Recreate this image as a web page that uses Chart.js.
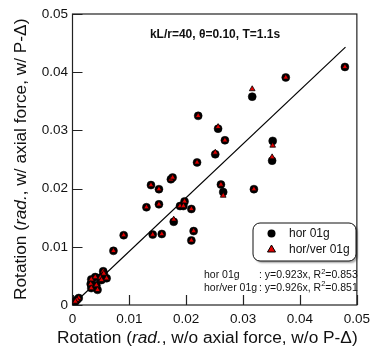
<!DOCTYPE html>
<html>
<head>
<meta charset="utf-8">
<script src="https://cdn.jsdelivr.net/npm/chart.js@4"></script>
<style>
html, body { margin: 0; padding: 0; background: #fff; }
</style>
</head>
<body>
<canvas id="chart" width="376" height="347"></canvas>
<script>
const fram = document.getElementById('chart');

// rotation without axial force (x) for each record
const rotNoAxial = [0.0479, 0.0375, 0.0316, 0.0221, 0.0256, 0.0268, 0.0352, 0.0351, 0.0251, 0.0219,
  0.0138, 0.0152, 0.0173, 0.0176, 0.0261, 0.0265, 0.0319, 0.0130, 0.0152, 0.0189,
  0.0197, 0.0195, 0.0209, 0.0178, 0.0213, 0.0209, 0.0090, 0.0141, 0.0157, 0.0072,
  0.0054, 0.0055, 0.0049, 0.0060, 0.0051, 0.0040, 0.0033, 0.0032, 0.0042, 0.0033,
  0.0044, 0.0011, 0.0008, 0.0005];
// rotation with axial force, horizontal 0.1g
const rotHor = [0.0409, 0.0391, 0.0358, 0.0325, 0.0303, 0.0283, 0.0282, 0.0248, 0.0259, 0.0245,
  0.0206, 0.0199, 0.0216, 0.0219, 0.0207, 0.0194, 0.0199, 0.0168, 0.0173, 0.0170,
  0.0178, 0.0170, 0.0165, 0.0143, 0.0127, 0.0111, 0.0120, 0.0121, 0.0122, 0.0093,
  0.0058, 0.0054, 0.0047, 0.0046, 0.0043, 0.0048, 0.0044, 0.0036, 0.0034, 0.0029,
  0.0026, 0.0012, 0.0009, 0.0006];
// rotation with axial force, horizontal + vertical 0.1g
const rotHorVer = [0.0409, 0.0391, 0.0371, 0.0325, 0.0306, 0.0283, 0.0274, 0.0254, 0.0262, 0.0245,
  0.0206, 0.0199, 0.0216, 0.0219, 0.0207, 0.0188, 0.0199, 0.0168, 0.0173, 0.0170,
  0.0178, 0.0170, 0.0165, 0.0147, 0.0127, 0.0111, 0.0120, 0.0121, 0.0122, 0.0093,
  0.0058, 0.0054, 0.0047, 0.0046, 0.0043, 0.0048, 0.0044, 0.0036, 0.0034, 0.0029,
  0.0026, 0.0012, 0.0009, 0.0006];
// fitted line end points
const fitX = [0, 0.048];
const fitY = [0, 0.0443];
const seriesNames = ['hor 01g', 'hor/ver 01g'];
const fitText = [': y=0.923x, R', '2', '=0.853', ': y=0.926x, R', '2', '=0.851'];
const titleText = 'kL/r=40, \u03b8=0.10, T=1.1s';
const tickVals = [0, 0.01, 0.02, 0.03, 0.04, 0.05];

const FONT = '"Liberation Sans", Arial, sans-serif';
const RED = '#e00000';

function runs(ctx, parts, x, y) {
  parts.forEach((p) => {
    ctx.font = p[1];
    ctx.fillText(p[0], x, y);
    x += ctx.measureText(p[0]).width;
  });
}

const overlay = {
  id: 'overlay',
  beforeDatasetsDraw(chart) {
    const ctx = chart.ctx;
    const a = chart.chartArea;
    const xs = chart.scales.x;
    const ys = chart.scales.y;
    ctx.save();
    ctx.strokeStyle = '#222';
    ctx.lineWidth = 1.2;
    ctx.strokeRect(a.left, a.top, a.right - a.left, a.bottom - a.top);
    ctx.beginPath();
    tickVals.forEach((v) => {
      const px = Math.round(xs.getPixelForValue(v)) + 0.5;
      ctx.moveTo(px, a.bottom);
      ctx.lineTo(px, a.bottom - 10);
      const py = Math.round(ys.getPixelForValue(v)) + 0.5;
      ctx.moveTo(a.left, py);
      ctx.lineTo(a.left + 10, py);
    });
    ctx.stroke();
    ctx.restore();
  },
  afterDraw(chart) {
    const ctx = chart.ctx;
    ctx.save();
    ctx.fillStyle = '#111';
    // title
    ctx.font = 'bold 12px ' + FONT;
    ctx.textAlign = 'center';
    ctx.textBaseline = 'middle';
    ctx.fillText(titleText, 215, 35);

    // legend box
    ctx.save();
    ctx.shadowColor = 'rgba(0,0,0,0.35)';
    ctx.shadowOffsetX = 2;
    ctx.shadowOffsetY = 2;
    ctx.shadowBlur = 2;
    ctx.beginPath();
    ctx.roundRect(253, 223, 103, 38, 7);
    ctx.fillStyle = '#fff';
    ctx.fill();
    ctx.restore();
    ctx.beginPath();
    ctx.roundRect(253, 223, 103, 38, 7);
    ctx.strokeStyle = '#111';
    ctx.lineWidth = 1;
    ctx.stroke();
    ctx.beginPath();
    ctx.arc(271.5, 233.5, 4, 0, Math.PI * 2);
    ctx.fillStyle = '#000';
    ctx.fill();
    ctx.beginPath();
    ctx.moveTo(271.5, 245);
    ctx.lineTo(275.5, 252);
    ctx.lineTo(267.5, 252);
    ctx.closePath();
    ctx.fillStyle = RED;
    ctx.fill();
    ctx.strokeStyle = '#000';
    ctx.stroke();
    ctx.fillStyle = '#111';
    ctx.textAlign = 'left';
    ctx.font = '12px ' + FONT;
    ctx.fillText(seriesNames[0], 289, 234);
    ctx.fillText(seriesNames[1], 289, 249.5);

    // regression text
    ctx.textBaseline = 'alphabetic';
    const f = '10.5px ' + FONT;
    const fs = '7.5px ' + FONT;
    ctx.font = f;
    ctx.fillText(seriesNames[0], 204, 278);
    ctx.fillText(seriesNames[1], 204, 290.5);
    runs(ctx, [[fitText[0], f]], 259, 278);
    let w = 259 + ctx.measureText(fitText[0]).width;
    ctx.font = fs; ctx.fillText(fitText[1], w, 273.5);
    w += ctx.measureText(fitText[1]).width;
    ctx.font = f; ctx.fillText(fitText[2], w, 278);
    ctx.font = f;
    w = 259 + ctx.measureText(fitText[3]).width;
    ctx.fillText(fitText[3], 259, 290.5);
    ctx.font = fs; ctx.fillText(fitText[4], w, 286);
    w += ctx.measureText(fitText[4]).width;
    ctx.font = f; ctx.fillText(fitText[5], w, 290.5);

    // axis titles
    const n = '17.3px ' + FONT;
    const it = 'italic 17.3px ' + FONT;
    runs(ctx, [['Rotation (', n], ['rad.', it], [', w/o axial force, w/o P-\u0394)', n]], 57, 343);
    ctx.translate(26, 300);
    ctx.rotate(-Math.PI / 2);
    runs(ctx, [['Rotation (', n], ['rad.', it], [', w/ axial force, w/ P-\u0394)', n]], 0, 0);
    ctx.restore();
  }
};

const horPts = rotNoAxial.map((x, i) => ({ x: x, y: rotHor[i] }));
const horVerPts = rotNoAxial.map((x, i) => ({ x: x, y: rotHorVer[i] }));
const fitPts = fitX.map((x, i) => ({ x: x, y: fitY[i] }));

const mychart = new Chart(fram, {
  type: 'scatter',
  data: {
    datasets: [
      {
        label: seriesNames[1],
        data: horVerPts,
        pointStyle: 'triangle',
        pointRadius: 3.3,
        backgroundColor: RED,
        borderColor: '#000',
        borderWidth: 0.8,
        order: 1,
      },
      {
        label: seriesNames[0],
        data: horPts,
        pointStyle: 'circle',
        pointRadius: 4,
        backgroundColor: '#000',
        borderColor: '#000',
        borderWidth: 0.5,
        order: 2,
      },
      {
        label: 'fit',
        data: fitPts,
        showLine: true,
        pointRadius: 0,
        borderColor: '#000',
        borderWidth: 1.2,
        order: 3,
      },
    ],
  },
  options: {
    responsive: false,
    animation: false,
    layout: { padding: { top: 14, right: 11.5, left: 0, bottom: 0 } },
    plugins: { legend: { display: false }, tooltip: { enabled: false } },
    scales: {
      x: {
        type: 'linear',
        min: 0,
        max: 0.05,
        grid: { display: false, drawTicks: false },
        border: { display: false },
        ticks: {
          stepSize: 0.01,
          padding: 6,
          color: '#111',
          font: { family: FONT, size: 13.5 },
          callback: (v) => (v === 0 ? '0' : v.toFixed(2)),
        },
        afterFit: (s) => { s.height = 42; },
      },
      y: {
        type: 'linear',
        min: 0,
        max: 0.05,
        grid: { display: false, drawTicks: false },
        border: { display: false },
        ticks: {
          stepSize: 0.01,
          padding: 4.5,
          color: '#111',
          font: { family: FONT, size: 13.5 },
          callback: (v) => (v === 0 ? '0' : v.toFixed(2)),
        },
        afterFit: (s) => { s.width = 72.5; },
      },
    },
  },
  plugins: [overlay],
});
</script>
</body>
</html>
